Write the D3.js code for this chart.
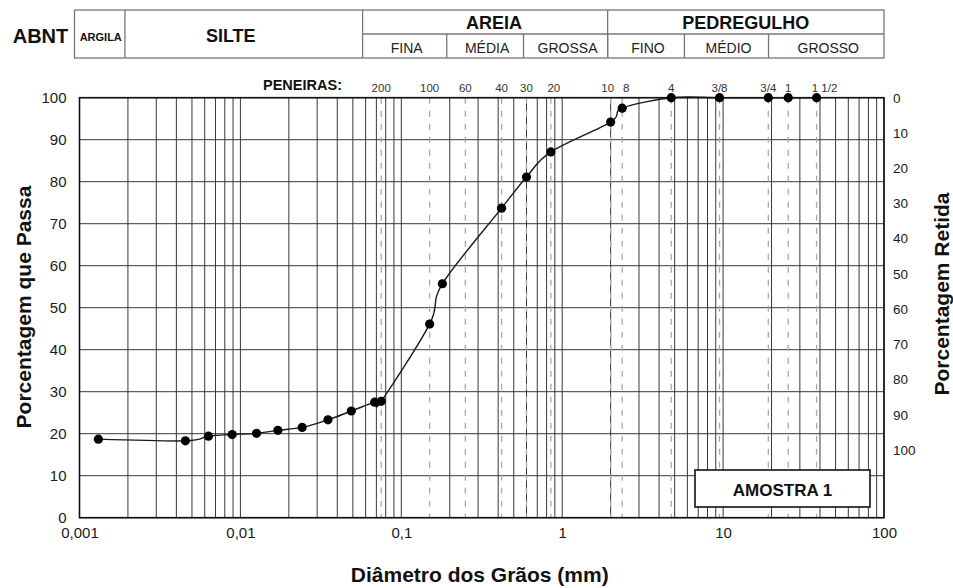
<!DOCTYPE html>
<html>
<head>
<meta charset="utf-8">
<script src="https://cdn.jsdelivr.net/npm/d3@7/dist/d3.min.js"></script>
<style>
  html, body { margin: 0; padding: 0; background: #fff; }
  svg { display: block; font-family: "Liberation Sans", Arial, sans-serif; }
</style>
</head>
<body>
<svg id="chart" width="953" height="588"></svg>
<script>
// ---------- DATA ----------
const diameters = [0.00131, 0.00455, 0.00633, 0.00889, 0.0126, 0.0171, 0.0242, 0.035, 0.0489, 0.0683, 0.075,
                   0.15, 0.18, 0.42, 0.6, 0.85, 2.0, 2.36, 4.76, 9.5, 19.1, 25.4, 38.1];
const passing   = [18.7, 18.3, 19.4, 19.8, 20.1, 20.8, 21.5, 23.3, 25.4, 27.5, 27.7,
                   46.1, 55.7, 73.7, 81.1, 87.1, 94.2, 97.5, 100, 100, 100, 100, 100];

const sieveLabels = ["200", "100", "60", "40", "30", "20", "10", "8", "4", "3/8", "3/4", "1", "1 1/2"];
const sieveSizes  = [0.075, 0.15, 0.25, 0.42, 0.6, 0.85, 2.0, 2.36, 4.76, 9.5, 19.1, 25.4, 38.1];

const xTickValues = [0.001, 0.01, 0.1, 1, 10, 100];
const xTickLabels = ["0,001", "0,01", "0,1", "1", "10", "100"];
const yTickValues = [0, 10, 20, 30, 40, 50, 60, 70, 80, 90, 100];
const retidaTicks = [0, 10, 20, 30, 40, 50, 60, 70, 80, 90, 100];

// ABNT classification
const classTop    = ["ARGILA", "SILTE", "AREIA", "PEDREGULHO"];
const classTopLim = [[0.001, 0.002], [0.002, 0.06], [0.06, 2], [2, 100]];
const classSub    = ["FINA", "MÉDIA", "GROSSA", "FINO", "MÉDIO", "GROSSO"];
const classSubLim = [[0.06, 0.2], [0.2, 0.6], [0.6, 2], [2, 6], [6, 20], [20, 100]];
const sampleName  = "AMOSTRA 1";

// ---------- LAYOUT ----------
const svg = d3.select("#chart");
const L = 79.5, R = 884, T = 97.7, B = 517.7;

const x = d3.scaleLog().domain([0.001, 100]).range([L, R]);
const y = d3.scaleLinear().domain([0, 100]).range([B, T]);
const yR = d3.scaleLinear().domain([0, 100]).range([y(100), y(16.1)]);

// grid
const gridX = [];
for (let d = -3; d <= 1; d++) for (let k = 1; k <= 9; k++) gridX.push(k * Math.pow(10, d));
gridX.push(100);

const g = svg.append("g");
g.selectAll("line.vx").data(gridX).join("line")
  .attr("x1", d => x(d)).attr("x2", d => x(d))
  .attr("y1", T).attr("y2", B)
  .attr("stroke", "#383838").attr("stroke-width", 1);
g.selectAll("line.hy").data(yTickValues).join("line")
  .attr("x1", L).attr("x2", R)
  .attr("y1", d => y(d)).attr("y2", d => y(d))
  .attr("stroke", "#383838").attr("stroke-width", 1);

// sieve dashed lines
g.selectAll("line.sv").data(sieveSizes).join("line")
  .attr("x1", d => x(d)).attr("x2", d => x(d))
  .attr("y1", T).attr("y2", B)
  .attr("stroke", "#a8a8a8").attr("stroke-width", 1.3)
  .attr("stroke-dasharray", "6,7");

// frame
svg.append("rect").attr("x", L).attr("y", T).attr("width", R - L).attr("height", B - T)
  .attr("fill", "none").attr("stroke", "#111").attr("stroke-width", 1.6);

// axes (labels)
const xAxis = d3.axisBottom(x).tickValues(xTickValues)
  .tickFormat((d, i) => xTickLabels[i]).tickSize(0).tickPadding(10);
const xa = svg.append("g").attr("transform", `translate(0,${B})`).call(xAxis);
xa.select(".domain").remove();
xa.selectAll("text").attr("font-size", 15).attr("fill", "#1a1a1a")
  .attr("font-family", "Liberation Sans, Arial, sans-serif");

const yAxis = d3.axisLeft(y).tickValues(yTickValues).tickSize(0).tickPadding(13);
const ya = svg.append("g").attr("transform", `translate(${L},0)`).call(yAxis);
ya.select(".domain").remove();
ya.selectAll("text").attr("font-size", 15).attr("fill", "#1a1a1a")
  .attr("font-family", "Liberation Sans, Arial, sans-serif");

const yAxisR = d3.axisRight(yR).tickValues(retidaTicks).tickSize(0).tickPadding(9);
const yra = svg.append("g").attr("transform", `translate(${R},0)`).call(yAxisR);
yra.select(".domain").remove();
yra.selectAll("text").attr("font-size", 13.5).attr("fill", "#1a1a1a")
  .attr("font-family", "Liberation Sans, Arial, sans-serif");

// axis titles
svg.append("text").attr("x", (L + R) / 2 - 2).attr("y", 582)
  .attr("text-anchor", "middle").attr("font-size", 21).attr("font-weight", "bold").attr("fill", "#111")
  .text("Diâmetro dos Grãos (mm)");
svg.append("text").attr("transform", `translate(31,307) rotate(-90)`)
  .attr("text-anchor", "middle").attr("font-size", 21).attr("font-weight", "bold").attr("fill", "#111")
  .text("Porcentagem que Passa");
svg.append("text").attr("transform", `translate(949,294) rotate(-90)`)
  .attr("text-anchor", "middle").attr("font-size", 21).attr("font-weight", "bold").attr("fill", "#111")
  .text("Porcentagem Retida");

// sieves labels
svg.append("text").attr("x", 342).attr("y", 90).attr("text-anchor", "end")
  .attr("font-size", 14.5).attr("font-weight", "bold").attr("fill", "#111").text("PENEIRAS:");
const nudge = { "10": -3, "8": 4, "20": 3, "1 1/2": 8 };
svg.selectAll("text.sl").data(sieveLabels).join("text")
  .attr("x", (d, i) => x(sieveSizes[i]) + (nudge[d] || 0)).attr("y", 92)
  .attr("text-anchor", "middle").attr("font-size", 11.5).attr("fill", "#333").text(d => d);

// curve
const pts = diameters.map((d, i) => [d, passing[i]]);
const line = d3.line().x(d => x(d[0])).y(d => y(d[1])).curve(d3.curveCatmullRom.alpha(0));
svg.append("path").datum(pts).attr("d", line)
  .attr("fill", "none").attr("stroke", "#1a1a1a").attr("stroke-width", 1.4);
svg.selectAll("circle.pt").data(pts).join("circle")
  .attr("cx", d => x(d[0])).attr("cy", d => y(d[1])).attr("r", 4.6).attr("fill", "#000");

// sample box
svg.append("rect").attr("x", 695).attr("y", 470).attr("width", 175).attr("height", 37)
  .attr("fill", "#fff").attr("stroke", "#111").attr("stroke-width", 1.6);
svg.append("text").attr("x", 782.5).attr("y", 496).attr("text-anchor", "middle")
  .attr("font-size", 17).attr("font-weight", "bold").attr("fill", "#111").text(sampleName);

// ---------- ABNT header table ----------
const tTop = 10, tMid = 34, tBot = 58;
const hx = v => (v <= 0.001 ? x(0.001) - 5 : v >= 100 ? x(100) : x(v) - 3);
const tbl = svg.append("g").attr("stroke", "#777").attr("stroke-width", 1.3).attr("fill", "none");
tbl.append("rect").attr("x", hx(0.001)).attr("y", tTop).attr("width", hx(100) - hx(0.001)).attr("height", tBot - tTop);
classTopLim.slice(1).forEach(l => {
  tbl.append("line").attr("x1", hx(l[0])).attr("x2", hx(l[0])).attr("y1", tTop).attr("y2", tBot);
});
tbl.append("line").attr("x1", hx(0.06)).attr("x2", hx(100)).attr("y1", tMid).attr("y2", tMid);
classSubLim.slice(1).forEach(l => {
  tbl.append("line").attr("x1", hx(l[0])).attr("x2", hx(l[0])).attr("y1", tMid).attr("y2", tBot);
});

svg.append("text").attr("x", 40.5).attr("y", 42.5).attr("text-anchor", "middle")
  .attr("font-size", 20).attr("font-weight", "bold").attr("fill", "#111").text("ABNT");

const topSizes = [11, 18, 18, 18];
const topY = [40.7, 41.7, 29.3, 29.3];
const topDx = [1, -13, 9, 0];
classTop.forEach((c, i) => {
  const [a, b] = classTopLim[i];
  svg.append("text").attr("x", (hx(a) + hx(b)) / 2 + topDx[i]).attr("y", topY[i])
    .attr("text-anchor", "middle").attr("font-size", topSizes[i]).attr("font-weight", "bold")
    .attr("fill", "#111").text(c);
});
classSub.forEach((c, i) => {
  const [a, b] = classSubLim[i];
  svg.append("text").attr("x", (hx(a) + hx(b)) / 2 + 2).attr("y", 53.3)
    .attr("text-anchor", "middle").attr("font-size", 14).attr("fill", "#222").text(c);
});
</script>
</body>
</html>
